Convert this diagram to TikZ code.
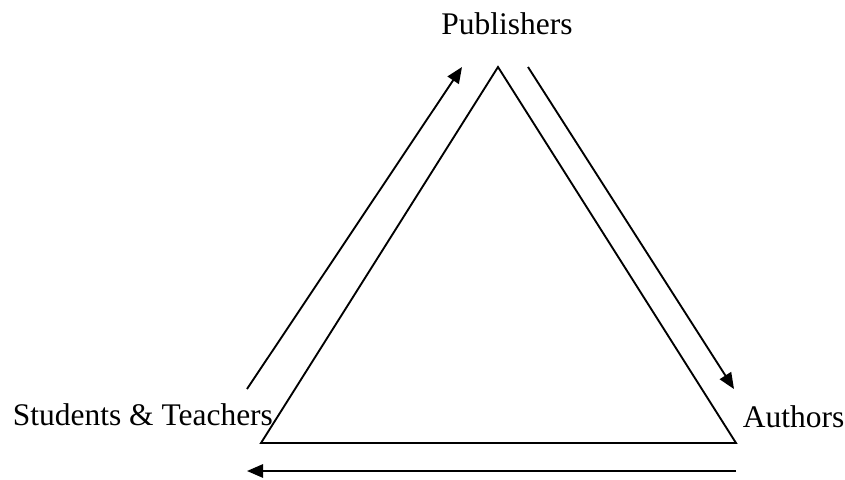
\documentclass[tikz,border=0pt]{standalone}
\usepackage{fontspec}
\setmainfont{Liberation Serif}
\usetikzlibrary{arrows.meta}
\begin{document}
\begin{tikzpicture}[x=.75pt,y=.75pt,line width=1.4pt,
  flow/.style={-{Triangle[length=12pt,width=10pt]}},
  lbl/.style={font=\fontsize{23.6}{28}\selectfont,inner sep=0pt}]
  \useasboundingbox (0,0) rectangle (845,479);
  \node[lbl,anchor=base] (pub) at (507,444) {Publishers};
  \node[lbl,anchor=base west] (stu) at (12,54) {Students \& Teachers};
  \node[lbl,anchor=base west] (aut) at (742,52) {Authors};
  \coordinate (top) at (498,412);
  \coordinate (bl) at (261,36);
  \coordinate (br) at (736,36);
  \draw[line join=miter] (top) -- (br) -- (bl) -- cycle;
  % arrows round the triangle
  \coordinate (s1) at (247,90);  \coordinate (e1) at (462,412);
  \coordinate (s2) at (528,412); \coordinate (e2) at (734,90);
  \coordinate (s3) at (736,8);   \coordinate (e3) at (247,8);
  \draw[flow] (s1)--(e1);
  \draw[flow] (s2)--(e2);
  \draw[flow] (s3)--(e3);
\end{tikzpicture}
\end{document}
